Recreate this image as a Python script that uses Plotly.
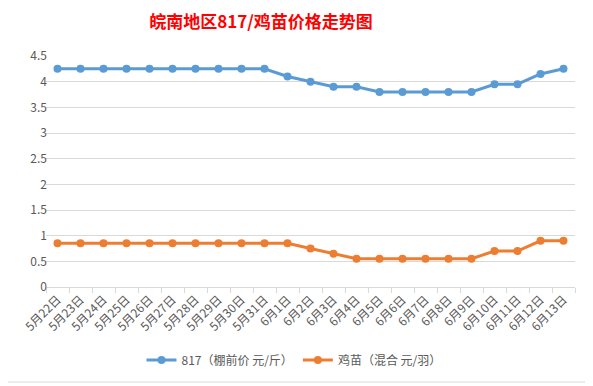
import plotly.graph_objects as go

dates = ["5月22日", "5月23日", "5月24日", "5月25日", "5月26日", "5月27日", "5月28日",
         "5月29日", "5月30日", "5月31日", "6月1日", "6月2日", "6月3日", "6月4日",
         "6月5日", "6月6日", "6月7日", "6月8日", "6月9日", "6月10日", "6月11日",
         "6月12日", "6月13日"]
price_817 = [4.25, 4.25, 4.25, 4.25, 4.25, 4.25, 4.25, 4.25, 4.25, 4.25, 4.1, 4.0,
             3.9, 3.9, 3.8, 3.8, 3.8, 3.8, 3.8, 3.95, 3.95, 4.15, 4.25]
price_chick = [0.85, 0.85, 0.85, 0.85, 0.85, 0.85, 0.85, 0.85, 0.85, 0.85, 0.85, 0.75,
               0.65, 0.55, 0.55, 0.55, 0.55, 0.55, 0.55, 0.7, 0.7, 0.9, 0.9]
name_817 = "817（棚前价 元/斤）"
name_chick = "鸡苗（混合 元/羽）"
title_text = "皖南地区817/鸡苗价格走势图"

font_family = "Noto Sans CJK SC, Noto Sans, sans-serif"

# page body has an 8px margin; compensate so the plot sits where the reference does
OFF = 8
W, H = 593 - OFF, 386 - OFF

fig = go.Figure()
fig.add_trace(go.Scatter(x=dates, y=price_817, name=name_817, mode="lines+markers",
                         line=dict(color="#5b9bd5", width=3),
                         marker=dict(color="#5b9bd5", size=8)))
fig.add_trace(go.Scatter(x=dates, y=price_chick, name=name_chick, mode="lines+markers",
                         line=dict(color="#ed7d31", width=3),
                         marker=dict(color="#ed7d31", size=8)))

fig.update_layout(
    width=W, height=H,
    margin=dict(l=46 - OFF, r=18, t=56 - OFF, b=99, autoexpand=False),
    paper_bgcolor="white", plot_bgcolor="white",
    font=dict(family=font_family, size=11, color="#595959"),
    title=dict(text=title_text, x=(261 - OFF) / W, xref="container", xanchor="center",
               y=1 - (22 - OFF) / H, yref="container", yanchor="middle",
               font=dict(family=font_family, size=17, color="#ff0000", weight="bold")),
    showlegend=True,
    legend=dict(orientation="h", x=(294 - 46) / 529, xanchor="center",
                y=-0.316, yanchor="middle", font=dict(size=12, color="#595959"),
                itemwidth=30),
    xaxis=dict(type="category", range=[-0.5, 22.5], tickangle=-45,
               showgrid=False, showline=True, linecolor="#d9d9d9", linewidth=1,
               ticks="outside", ticklen=5, tickcolor="#d9d9d9", tickson="boundaries",
               tickfont=dict(size=12, color="#595959")),
    yaxis=dict(range=[0, 4.5], dtick=0.5, tick0=0, showgrid=True, gridcolor="#d9d9d9",
               gridwidth=1, zeroline=False, showline=False, ticks="",
               ticklabelstandoff=-2,
               tickfont=dict(size=12, color="#595959")),
    shapes=[dict(type="rect", xref="paper", yref="paper",
                 x0=(3 - 46) / 529, x1=(591 - 46) / 529,
                 y0=(287 - 382) / 231, y1=(287 - 3) / 231,
                 line=dict(color="#d9d9d9", width=1), fillcolor="rgba(0,0,0,0)",
                 layer="below")],
)

fig.write_html("out.html")
